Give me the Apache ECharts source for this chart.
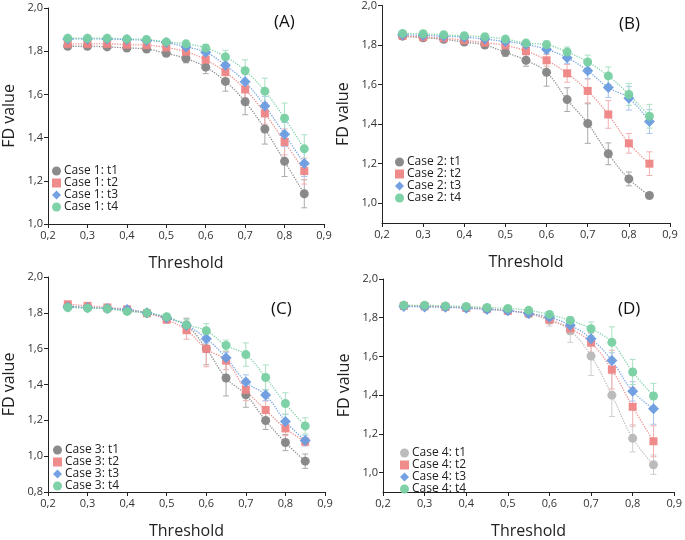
<!DOCTYPE html>
<html><head><meta charset="utf-8">
<script src="https://cdn.jsdelivr.net/npm/echarts@6/dist/echarts.min.js"></script>
<style>html,body{margin:0;padding:0;background:#fff}#c{width:685px;height:540px}</style>
</head><body><div id="c"></div>
<script>
var thresholds = [0.25,0.30,0.35,0.40,0.45,0.50,0.55,0.60,0.65,0.70,0.75,0.80,0.85];
var xTicks = ['0,2','0,3','0,4','0,5','0,6','0,7','0,8','0,9'];
var panelTags = ['(A)','(B)','(C)','(D)'];
var timeLabels = ['t1','t2','t3','t4'];

// Panel A (Case 1)
var a_t1 = [1.823,1.823,1.820,1.815,1.810,1.790,1.766,1.726,1.660,1.566,1.440,1.290,1.140];
var a_t2 = [1.834,1.834,1.834,1.830,1.828,1.817,1.797,1.760,1.703,1.623,1.512,1.380,1.245];
var a_t3 = [1.857,1.857,1.856,1.854,1.850,1.840,1.820,1.795,1.735,1.658,1.546,1.415,1.280];
var a_t4 = [1.860,1.860,1.860,1.857,1.854,1.843,1.834,1.815,1.774,1.710,1.615,1.490,1.348];
var a_e1 = [0.005,0.005,0.005,0.006,0.008,0.010,0.020,0.030,0.045,0.060,0.070,0.070,0.065];
var a_e2 = [0.004,0.004,0.005,0.006,0.008,0.010,0.015,0.020,0.030,0.040,0.050,0.060,0.060];
var a_e3 = [0.004,0.004,0.004,0.005,0.006,0.008,0.012,0.015,0.025,0.035,0.045,0.055,0.060];
var a_e4 = [0.004,0.004,0.004,0.005,0.006,0.008,0.012,0.015,0.030,0.050,0.060,0.070,0.065];

// Panel B (Case 2)
var b_t1 = [1.845,1.837,1.829,1.815,1.800,1.763,1.723,1.662,1.524,1.403,1.250,1.123,1.039];
var b_t2 = [1.847,1.840,1.835,1.824,1.812,1.798,1.770,1.723,1.657,1.568,1.449,1.303,1.200];
var b_t3 = [1.852,1.849,1.845,1.840,1.830,1.818,1.803,1.778,1.736,1.670,1.585,1.531,1.413];
var b_t4 = [1.859,1.857,1.852,1.847,1.842,1.830,1.810,1.802,1.765,1.714,1.644,1.550,1.440];
var b_e1 = [0.005,0.006,0.008,0.010,0.012,0.020,0.030,0.070,0.060,0.100,0.055,0.035,0.010];
var b_e2 = [0.005,0.006,0.008,0.010,0.012,0.015,0.020,0.030,0.045,0.060,0.070,0.050,0.060];
var b_e3 = [0.004,0.005,0.006,0.008,0.010,0.012,0.015,0.020,0.030,0.040,0.050,0.060,0.060];
var b_e4 = [0.004,0.005,0.006,0.008,0.010,0.012,0.015,0.020,0.025,0.035,0.045,0.055,0.060];

// Panel C (Case 3)
var c_t1 = [1.837,1.830,1.823,1.812,1.798,1.771,1.730,1.600,1.436,1.343,1.199,1.076,0.972];
var c_t2 = [1.848,1.839,1.830,1.819,1.798,1.762,1.703,1.599,1.533,1.370,1.258,1.155,1.081];
var c_t3 = [1.833,1.828,1.824,1.819,1.800,1.773,1.730,1.656,1.550,1.414,1.341,1.194,1.087];
var c_t4 = [1.830,1.826,1.823,1.808,1.800,1.778,1.733,1.700,1.618,1.567,1.439,1.294,1.169];
var c_e1 = [0.005,0.006,0.008,0.010,0.012,0.020,0.040,0.090,0.100,0.070,0.050,0.045,0.040];
var c_e2 = [0.005,0.006,0.008,0.010,0.012,0.020,0.050,0.100,0.050,0.060,0.050,0.040,0.020];
var c_e3 = [0.004,0.005,0.006,0.008,0.010,0.015,0.020,0.025,0.030,0.040,0.030,0.040,0.030];
var c_e4 = [0.004,0.005,0.006,0.008,0.010,0.015,0.030,0.040,0.030,0.065,0.070,0.060,0.045];

// Panel D (Case 4)
var d_t1 = [1.864,1.861,1.856,1.853,1.845,1.836,1.820,1.787,1.733,1.602,1.400,1.177,1.041];
var d_t2 = [1.861,1.859,1.856,1.851,1.846,1.836,1.823,1.790,1.745,1.671,1.532,1.340,1.162];
var d_t3 = [1.858,1.856,1.854,1.849,1.843,1.836,1.822,1.802,1.761,1.692,1.579,1.420,1.330];
var d_t4 = [1.864,1.864,1.861,1.858,1.853,1.848,1.838,1.817,1.786,1.743,1.673,1.520,1.396];
var d_e1 = [0.004,0.005,0.006,0.008,0.010,0.012,0.020,0.030,0.060,0.100,0.110,0.070,0.050];
var d_e2 = [0.004,0.005,0.006,0.008,0.010,0.012,0.015,0.020,0.030,0.050,0.100,0.100,0.080];
var d_e3 = [0.004,0.004,0.005,0.006,0.008,0.010,0.012,0.015,0.020,0.030,0.040,0.050,0.080];
var d_e4 = [0.004,0.004,0.005,0.006,0.008,0.010,0.012,0.015,0.020,0.035,0.080,0.065,0.065];

var panels = [
  {name:'Case 1', vals:[a_t1,a_t2,a_t3,a_t4], errs:[a_e1,a_e2,a_e3,a_e4], ymin:1.0, grid:{left:40,top:8,width:284,height:216}, tag:[274,14], legend:[52,165], gray:'#858585'},
  {name:'Case 2', vals:[b_t1,b_t2,b_t3,b_t4], errs:[b_e1,b_e2,b_e3,b_e4], ymin:0.9, grid:{left:382,top:5,width:288,height:218}, tag:[619,16], legend:[395,156], gray:'#858585'},
  {name:'Case 3', vals:[c_t1,c_t2,c_t3,c_t4], errs:[c_e1,c_e2,c_e3,c_e4], ymin:0.8, grid:{left:44,top:277,width:281,height:224}, tag:[271,301], legend:[53,444], gray:'#858585'},
  {name:'Case 4', vals:[d_t1,d_t2,d_t3,d_t4], errs:[d_e1,d_e2,d_e3,d_e4], ymin:0.9, grid:{left:383,top:279,width:294,height:223}, tag:[618,301], legend:[400,447], gray:'#b8b8b8'}
];
var colors = [null,'#ee8585','#6b9ce0','#78d0a2'];
var errColors = [null,'#f2b0b0','#a8c4ee','#a9e0c2'];
var symbols = ['circle','rect','diamond','circle'];
var symSizes = [9,8,11,9];

var option = {
  animation:false,
  backgroundColor:'#fff',
  grid:[], xAxis:[], yAxis:[], series:[], legend:[], graphic:[]
};
var yCustom = [1.0,1.2,1.4,1.6,1.8,2.0];
function fmt(v){ return (Math.round(v*10)/10).toFixed(1).replace('.',','); }

panels.forEach(function(p, gi){
  option.grid.push(Object.assign({containLabel:false}, p.grid));
  var axLine = {show:true, onZero:false, lineStyle:{color:'#222', width:1}};
  option.xAxis.push({
    type:'value', gridIndex:gi, min:0.2, max:0.9, interval:0.1,
    name:'Threshold', nameLocation:'middle', nameGap:31,
    nameTextStyle:{fontSize:16, color:'#222', fontFamily:'Open Sans'},
    axisLine:axLine, axisTick:{show:true, length:4, lineStyle:{color:'#222'}},
    axisLabel:{fontSize:11, color:'#333', margin:6, fontFamily:'Open Sans', formatter:fmt, showMaxLabel:true},
    splitLine:{show:false}
  });
  var ticks = p.ymin===0.8 ? [0.8].concat(yCustom) : yCustom;
  option.yAxis.push({
    type:'value', gridIndex:gi, min:p.ymin, max:2.0,
    name:'FD value', nameLocation:'middle', nameGap:31,
    nameTextStyle:{fontSize:16, color:'#222', fontFamily:'Open Sans'},
    axisLine:axLine,
    axisTick:{show:true, length:4, lineStyle:{color:'#222'}, customValues:ticks},
    axisLabel:{fontSize:11, color:'#333', margin:5, fontFamily:'Open Sans', formatter:fmt, customValues:ticks},
    splitLine:{show:false}
  });
  var legendNames = [];
  for (var k=0;k<4;k++){
    var col = k===0 ? p.gray : colors[k];
    var ecol = k===0 ? (gi===3 ? '#cfcfcf' : '#aaaaaa') : errColors[k];
    var sname = p.name + ': ' + timeLabels[k];
    legendNames.push(sname);
    var pts = thresholds.map(function(x,i){ return [x, p.vals[k][i]]; });
    var epts = thresholds.map(function(x,i){ return [x, p.vals[k][i]-p.errs[k][i], p.vals[k][i]+p.errs[k][i]]; });
    option.series.push({
      type:'line', xAxisIndex:gi, yAxisIndex:gi, data:pts, smooth:0.4, showSymbol:false,
      symbol:'none', silent:true, z:1,
      lineStyle:{color:col, width:1.3, type:'dotted', opacity:0.9}
    });
    option.series.push({
      type:'custom', xAxisIndex:gi, yAxisIndex:gi, data:epts, silent:true, z:2,
      encode:{x:0, y:[1,2]},
      renderItem:(function(ec){ return function(params, api){
        var x = api.value(0);
        var lo = api.coord([x, api.value(1)]);
        var hi = api.coord([x, api.value(2)]);
        var w = 3;
        var st = {stroke:ec, lineWidth:1};
        return {type:'group', children:[
          {type:'line', shape:{x1:lo[0],y1:lo[1],x2:hi[0],y2:hi[1]}, style:st},
          {type:'line', shape:{x1:lo[0]-w,y1:lo[1],x2:lo[0]+w,y2:lo[1]}, style:st},
          {type:'line', shape:{x1:hi[0]-w,y1:hi[1],x2:hi[0]+w,y2:hi[1]}, style:st}
        ]};
      }; })(ecol)
    });
    option.series.push({
      name:sname, type:'scatter', xAxisIndex:gi, yAxisIndex:gi, data:pts, z:3,
      symbol:symbols[k], symbolSize:symSizes[k],
      itemStyle:{color:col, opacity:0.95}
    });
  }
  option.legend.push({
    data:legendNames.map(function(n,k){ return {name:n, icon:symbols[k]}; }),
    orient:'vertical', left:p.legend[0], top:p.legend[1],
    itemWidth:9, itemHeight:9, itemGap:0, padding:0,
    textStyle:{fontSize:12, color:'#222', fontFamily:'Open Sans', padding:[0,0,0,-2]},
    selectedMode:false
  });
  option.graphic.push({
    type:'text', left:p.tag[0], top:p.tag[1],
    style:{text:panelTags[gi], fontSize:17, fill:'#111', fontFamily:'Open Sans'}
  });
});

var chart = echarts.init(document.getElementById('c'), null, {renderer:'canvas'});
chart.setOption(option);
</script>
</body></html>
